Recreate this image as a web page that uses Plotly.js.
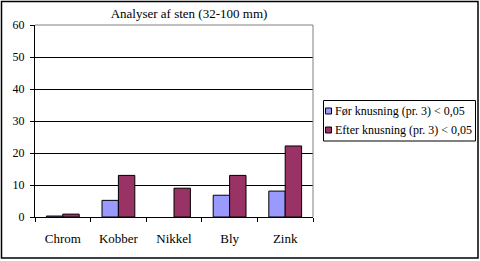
<!DOCTYPE html>
<html><head><meta charset="utf-8">
<script src="https://cdn.plot.ly/plotly-3.0.1.min.js"></script>
<style>html,body{margin:0;padding:0;background:#fff}#c{width:480px;height:261px}</style>
</head><body><div id="c"></div>
<script>
const categories = ["Chrom", "Kobber", "Nikkel", "Bly", "Zink"];
const seriesNames = ["Før knusning (pr. 3) < 0,05", "Efter knusning (pr. 3) < 0,05"];
const foer = [0.3, 5.2, null, 6.8, 8.1];
const efter = [0.9, 13.0, 9.0, 13.0, 22.2];
const yTicks = [0, 10, 20, 30, 40, 50, 60];
const colors = ["#9999FF", "#993366"];
const font = "'Liberation Serif', 'Times New Roman', serif";

// plot area geometry in pixels
const L = 35, R = 313, T = 25, B = 217, W = 480, H = 261;
const pw = R - L, ph = B - T;
const px = x => (x - L) / pw;
const py = y => (B - y) / ph;

const traces = [
  {type: "bar", name: seriesNames[0], x: categories, y: foer,
   marker: {color: colors[0], line: {color: "#000", width: 1}}},
  {type: "bar", name: seriesNames[1], x: categories, y: efter,
   marker: {color: colors[1], line: {color: "#000", width: 1}}}
];

const shapes = [
  {type: "line", xref: "paper", yref: "paper", x0: 1, x1: 1, y0: 0, y1: 1, line: {color: "#808080", width: 1}},
  {type: "line", xref: "paper", yref: "paper", x0: 0, x1: 1, y0: 1, y1: 1, line: {color: "#808080", width: 1}},
  {type: "rect", xref: "paper", yref: "paper", x0: px(1.5), x1: px(478), y0: py(258), y1: py(1.5),
   line: {color: "#000", width: 1.5}, fillcolor: "rgba(0,0,0,0)"},
  // legend box
  {type: "rect", xref: "paper", yref: "paper", x0: px(323.5), x1: px(475.5), y0: py(141), y1: py(100.5),
   line: {color: "#000", width: 1}, fillcolor: "#fff"}
];
const annotations = [];
const rowsY = [111, 130];
seriesNames.forEach((n, i) => {
  shapes.push({type: "rect", xref: "paper", yref: "paper", x0: px(325.5), x1: px(331.5),
    y0: py(rowsY[i] + 3), y1: py(rowsY[i] - 3), line: {color: "#000", width: 1}, fillcolor: colors[i]});
  annotations.push({xref: "paper", yref: "paper", x: px(333), y: py(rowsY[i]), xanchor: "left", yanchor: "middle",
    text: n, showarrow: false, font: {family: font, size: 12, color: "#000"}});
});

const layout = {
  width: W, height: H,
  margin: {l: L, r: W - R, t: T, b: H - B},
  paper_bgcolor: "#fff", plot_bgcolor: "#fff",
  font: {family: font, size: 12, color: "#000"},
  title: {text: "Analyser af sten (32-100 mm)", font: {family: font, size: 13, color: "#000"},
          x: 189 / W, xanchor: "center", y: 1 - 13 / H, yanchor: "middle"},
  barmode: "group", bargap: 0.41, bargroupgap: 0,
  showlegend: false,
  xaxis: {type: "category", showgrid: false, showline: true, linecolor: "#000", linewidth: 1,
          ticks: "outside", tickson: "boundaries", ticklen: 4, tickcolor: "#000",
          ticklabelstandoff: 9,
          tickfont: {family: font, size: 13, color: "#000"}, fixedrange: true},
  yaxis: {range: [0, 60], tickvals: yTicks, showgrid: true, gridcolor: "#000", gridwidth: 1,
          showline: true, linecolor: "#000", ticks: "outside", ticklen: 4, tickcolor: "#000",
          ticklabelstandoff: 3,
          zeroline: false, tickfont: {family: font, size: 12, color: "#000"}, fixedrange: true},
  shapes: shapes,
  annotations: annotations
};
Plotly.newPlot("c", traces, layout, {displayModeBar: false, staticPlot: true});
</script></body></html>
